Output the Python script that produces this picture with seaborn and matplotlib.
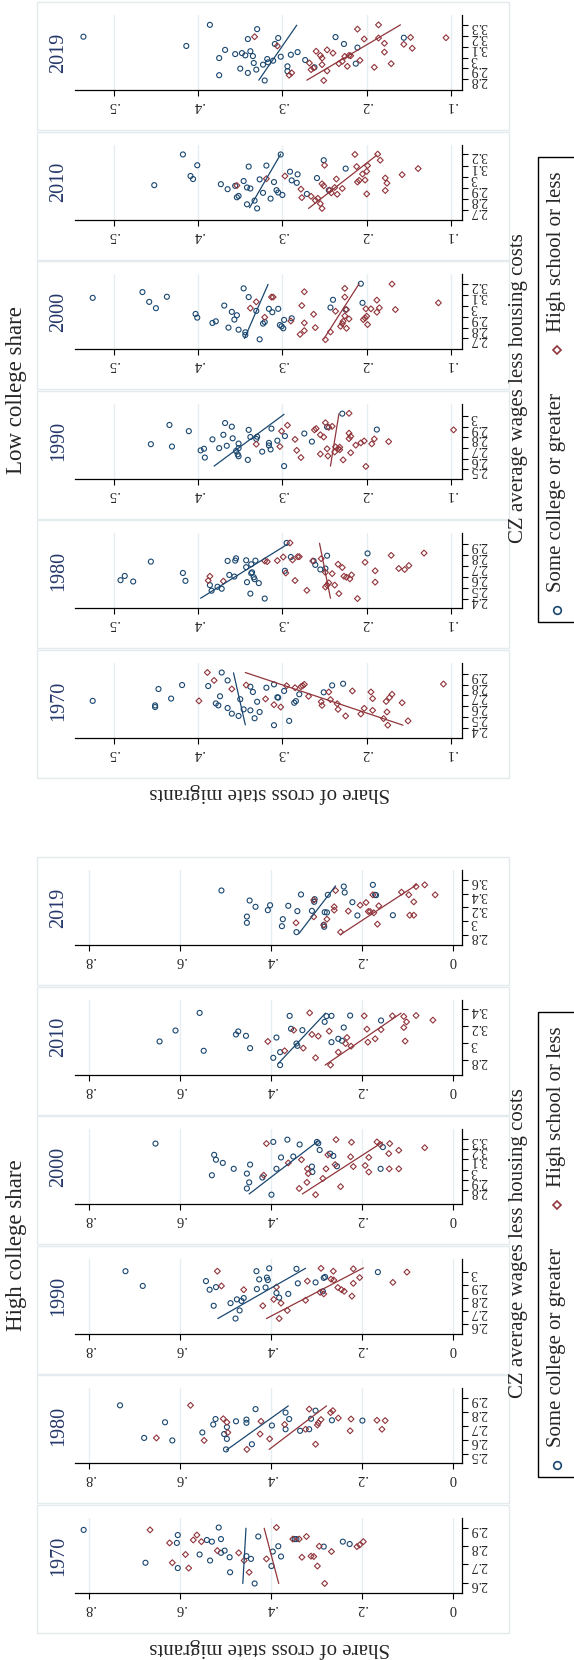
import matplotlib
matplotlib.use("Agg")
import matplotlib.pyplot as plt
from matplotlib.patches import Rectangle
import pandas as pd
import seaborn as sns

# figure is the rotated (90 deg ccw) Stata graph, laid out in pixels
W, H = 574, 1660
BLUE = "#1a476f"
RED = "#90353b"
YEAR_COLOR = "#25386a"

years = [1970, 1980, 1990, 2000, 2010, 2019]
groups = ["Low college share", "High college share"]
legend_labels = ["Some college or greater", "High school or less"]
x_title = "CZ average wages less housing costs"
y_title = "Share of cross state migrants"

low_share_ticks = [0.1, 0.2, 0.3, 0.4, 0.5]
high_share_ticks = [0.0, 0.2, 0.4, 0.6, 0.8]

# (share, wage) points, col = some college or greater, hs = high school or less
low_1970_col = [(.525, 2.651), (.451, 2.595), (.451, 2.610), (.447, 2.759), (.432, 2.672), (.419, 2.795), (.388, 2.786),
                (.379, 2.628), (.376, 2.610), (.374, 2.693), (.372, 2.909), (.365, 2.837), (.365, 2.586), (.360, 2.535),
                (.352, 2.514), (.350, 2.666), (.346, 2.574), (.338, 2.780), (.338, 2.565), (.335, 2.732), (.333, 2.493),
                (.330, 2.643), (.327, 2.550), (.319, 2.771), (.310, 2.430), (.310, 2.801), (.306, 2.684), (.305, 2.681),
                (.298, 2.741), (.292, 2.469), (.286, 2.634), (.284, 2.649), (.280, 2.711), (.251, 2.729), (.241, 2.792),
                (.228, 2.807)]
low_1970_hs = [(.399, 2.651), (.389, 2.909), (.381, 2.837), (.360, 2.759), (.343, 2.795), (.320, 2.669), (.310, 2.616),
               (.302, 2.595), (.295, 2.789), (.285, 2.771), (.278, 2.780), (.276, 2.789), (.274, 2.801), (.269, 2.693),
               (.254, 2.643), (.253, 2.610), (.245, 2.732), (.243, 2.663), (.235, 2.625), (.234, 2.574), (.225, 2.514),
               (.217, 2.741), (.207, 2.532), (.203, 2.583), (.195, 2.732), (.193, 2.672), (.193, 2.565), (.180, 2.490),
               (.177, 2.646), (.176, 2.550), (.175, 2.430), (.173, 2.681), (.170, 2.711), (.158, 2.634), (.151, 2.469),
               (.109, 2.804)]
low_1970_col_fit = [(.344, 2.433), (.358, 2.906)]
low_1970_hs_fit = [(.157, 2.430), (.344, 2.909)]

low_1980_col = [(.492, 2.571), (.487, 2.610), (.477, 2.559), (.456, 2.741), (.418, 2.637), (.415, 2.565), (.386, 2.526),
                (.384, 2.475), (.377, 2.511), (.372, 2.493), (.365, 2.747), (.363, 2.619), (.357, 2.604), (.356, 2.750),
                (.355, 2.771), (.343, 2.753), (.343, 2.690), (.342, 2.553), (.338, 2.448), (.337, 2.717), (.337, 2.634),
                (.336, 2.643), (.334, 2.598), (.333, 2.580), (.332, 2.750), (.328, 2.544), (.321, 2.403), (.297, 2.657),
                (.295, 2.912), (.290, 2.783), (.263, 2.747), (.261, 2.711), (.255, 2.669), (.249, 2.678), (.247, 2.795),
                (.199, 2.816)]
low_1980_hs = [(.388, 2.568), (.386, 2.607), (.370, 2.562), (.321, 2.747), (.318, 2.741), (.306, 2.750), (.299, 2.783),
               (.296, 2.637), (.291, 2.912), (.288, 2.756), (.285, 2.568), (.282, 2.786), (.280, 2.786), (.271, 2.478),
               (.264, 2.747), (.254, 2.768), (.249, 2.643), (.249, 2.508), (.247, 2.526), (.245, 2.547), (.241, 2.631),
               (.238, 2.526), (.234, 2.717), (.233, 2.448), (.229, 2.687), (.227, 2.607), (.224, 2.598), (.220, 2.583),
               (.218, 2.619), (.211, 2.403), (.202, 2.735), (.190, 2.657), (.190, 2.553), (.171, 2.798), (.162, 2.678),
               (.155, 2.669), (.150, 2.705), (.132, 2.819)]
low_1980_col_fit = [(.397, 2.406), (.294, 2.900)]
low_1980_hs_fit = [(.243, 2.406), (.256, 2.909)]

low_1990_col = [(.456, 2.735), (.434, 2.915), (.431, 2.713), (.411, 2.857), (.397, 2.677), (.393, 2.692), (.392, 2.610),
                (.383, 2.780), (.375, 2.698), (.370, 2.823), (.368, 2.933), (.366, 2.720), (.360, 2.899), (.359, 2.790),
                (.355, 2.671), (.353, 2.640), (.352, 2.622), (.352, 2.741), (.352, 2.698), (.341, 2.588), (.340, 2.869),
                (.338, 2.802), (.331, 2.784), (.330, 2.805), (.324, 2.665), (.316, 2.747), (.316, 2.723), (.314, 2.686),
                (.313, 2.881), (.306, 2.768), (.298, 2.530), (.297, 2.811), (.274, 2.835), (.265, 2.759), (.247, 2.896),
                (.229, 3.021), (.188, 2.872)]
low_1990_hs = [(.331, 2.735), (.303, 2.713), (.301, 2.857), (.294, 2.912), (.285, 2.780), (.283, 2.677), (.278, 2.610),
               (.262, 2.869), (.260, 2.881), (.255, 2.823), (.255, 2.643), (.251, 2.802), (.249, 2.936), (.247, 2.692),
               (.246, 2.625), (.245, 2.893), (.241, 2.902), (.238, 2.662), (.237, 2.710), (.234, 2.692), (.232, 2.707),
               (.232, 2.683), (.228, 2.588), (.221, 2.838), (.221, 3.024), (.219, 2.808), (.221, 2.787), (.219, 2.655),
               (.213, 2.726), (.207, 2.747), (.203, 2.765), (.201, 2.527), (.194, 2.738), (.191, 2.784), (.174, 2.759),
               (.097, 2.869)]
low_1990_col_fit = [(.381, 2.530), (.298, 3.015)]
low_1990_hs_fit = [(.243, 2.530), (.233, 3.018)]

low_2000_col = [(.525, 3.073), (.466, 3.126), (.458, 3.036), (.450, 2.978), (.437, 3.083), (.403, 2.925), (.401, 2.891),
                (.383, 2.842), (.379, 2.857), (.369, 3.002), (.364, 2.799), (.360, 2.944), (.357, 2.873), (.354, 2.913),
                (.352, 2.780), (.346, 3.160), (.344, 2.756), (.344, 2.731), (.340, 3.080), (.331, 2.953), (.327, 2.691),
                (.323, 2.836), (.321, 2.851), (.316, 2.972), (.312, 2.941), (.305, 2.972), (.303, 2.823), (.301, 2.811),
                (.299, 2.793), (.298, 2.870), (.289, 2.885), (.240, 3.055), (.243, 2.984), (.225, 2.965), (.207, 3.203),
                (.205, 3.027)]
low_2000_hs = [(.338, 2.978), (.331, 3.036), (.321, 2.894), (.313, 3.080), (.311, 3.080), (.290, 2.860), (.279, 2.737),
               (.277, 3.002), (.274, 3.129), (.274, 2.771), (.274, 2.842), (.263, 2.922), (.261, 2.799), (.249, 2.688),
               (.243, 2.759), (.237, 2.950), (.231, 2.811), (.229, 2.836), (.228, 2.857), (.226, 2.907), (.226, 3.160),
               (.226, 3.080), (.224, 2.965), (.224, 2.793), (.221, 2.879), (.204, 2.873), (.202, 2.888), (.200, 2.904),
               (.199, 2.827), (.201, 2.972), (.195, 2.972), (.188, 3.052), (.188, 2.941), (.185, 2.981), (.170, 3.200),
               (.166, 2.965), (.115, 3.027)]
low_2000_col_fit = [(.345, 2.700), (.317, 3.197)]
low_2000_hs_fit = [(.251, 2.694), (.209, 3.203)]

low_2010_col = [(.452, 2.924), (.418, 3.200), (.401, 3.103), (.409, 3.006), (.406, 2.979), (.373, 2.933), (.365, 2.888),
                (.356, 2.918), (.346, 2.961), (.342, 2.903), (.338, 2.894), (.354, 2.815), (.352, 2.827), (.342, 2.752),
                (.333, 2.785), (.330, 2.715), (.340, 3.091), (.319, 3.100), (.327, 2.976), (.323, 2.855), (.314, 2.803),
                (.310, 2.952), (.307, 2.879), (.305, 2.858), (.300, 2.836), (.302, 3.200), (.291, 3.045), (.289, 2.967),
                (.283, 2.945), (.282, 3.021), (.271, 2.845), (.259, 2.988), (.251, 3.148), (.245, 2.879), (.225, 3.073)]
low_2010_hs = [(.354, 2.921), (.319, 2.982), (.297, 3.006), (.278, 2.888), (.277, 2.812), (.266, 2.824), (.261, 2.788),
               (.258, 2.806), (.255, 2.758), (.253, 2.715), (.253, 2.936), (.251, 2.918), (.250, 3.103), (.244, 2.879),
               (.242, 2.855), (.238, 2.903), (.236, 2.979), (.235, 2.842), (.229, 2.894), (.214, 3.200), (.212, 3.091),
               (.211, 2.952), (.209, 2.967), (.205, 3.024), (.202, 2.970), (.200, 2.845), (.199, 3.100), (.200, 3.048),
               (.187, 3.203), (.184, 3.148), (.178, 2.988), (.176, 2.942), (.178, 2.876), (.158, 3.018), (.139, 3.073)]
low_2010_col_fit = [(.339, 2.721), (.302, 3.203)]
low_2010_hs_fit = [(.269, 2.715), (.188, 3.194)]

low_2019_col = [(.536, 3.189), (.414, 3.105), (.386, 3.297), (.330, 3.258), (.341, 3.168), (.368, 3.069), (.375, 2.995),
                (.375, 2.839), (.356, 3.031), (.348, 3.040), (.344, 3.019), (.338, 3.057), (.335, 3.013), (.334, 2.950),
                (.350, 2.899), (.341, 2.860), (.331, 2.890), (.323, 2.935), (.321, 2.791), (.318, 2.986), (.317, 2.956),
                (.311, 2.971), (.309, 3.123), (.305, 3.177), (.302, 3.007), (.294, 2.920), (.294, 2.875), (.290, 3.025),
                (.282, 3.049), (.273, 2.977), (.262, 2.911), (.237, 3.186), (.227, 3.123), (.211, 3.090), (.213, 2.944),
                (.156, 3.180)]
low_2019_hs = [(.333, 3.189), (.306, 3.105), (.292, 2.839), (.289, 2.860), (.268, 2.950), (.266, 2.890), (.263, 2.905),
               (.260, 3.057), (.255, 3.019), (.253, 2.935), (.251, 2.791), (.247, 3.069), (.247, 2.878), (.253, 2.995),
               (.240, 3.040), (.233, 2.944), (.229, 2.965), (.226, 3.010), (.223, 2.920), (.221, 3.019), (.219, 3.016),
               (.211, 3.258), (.208, 2.974), (.203, 3.168), (.191, 2.911), (.186, 3.297), (.186, 3.177), (.179, 3.129),
               (.179, 3.049), (.171, 2.944), (.156, 3.120), (.148, 3.183), (.146, 3.084), (.106, 3.180)]
low_2019_col_fit = [(.328, 2.794), (.283, 3.294)]
low_2019_hs_fit = [(.271, 2.794), (.160, 3.297)]

high_1970_col = [(.812, 2.887), (.676, 2.708), (.605, 2.859), (.607, 2.816), (.605, 2.679), (.557, 2.753), (.541, 2.832),
                 (.534, 2.720), (.530, 2.823), (.515, 2.900), (.510, 2.837), (.510, 2.762), (.502, 2.774), (.491, 2.738),
                 (.490, 2.656), (.454, 2.744), (.444, 2.729), (.436, 2.595), (.428, 2.851), (.399, 2.690), (.396, 2.769),
                 (.384, 2.798), (.378, 2.742), (.348, 2.837), (.344, 2.837), (.284, 2.796), (.242, 2.823), (.227, 2.810)]
high_1970_hs = [(.666, 2.887), (.623, 2.816), (.617, 2.708), (.588, 2.753), (.581, 2.679), (.571, 2.832), (.563, 2.859),
                (.553, 2.823), (.518, 2.774), (.471, 2.762), (.459, 2.720), (.448, 2.656), (.410, 2.729), (.388, 2.900),
                (.352, 2.837), (.338, 2.837), (.332, 2.738), (.322, 2.851), (.312, 2.744), (.306, 2.742), (.298, 2.690),
                (.294, 2.798), (.282, 2.595), (.267, 2.769), (.211, 2.796), (.205, 2.805), (.197, 2.823)]
high_1970_col_fit = [(.462, 2.595), (.455, 2.896)]
high_1970_hs_fit = [(.383, 2.595), (.415, 2.896)]

high_1980_col = [(.732, 2.847), (.679, 2.614), (.633, 2.726), (.617, 2.596), (.551, 2.653), (.527, 2.710), (.522, 2.749),
                 (.503, 2.642), (.497, 2.692), (.497, 2.607), (.499, 2.532), (.477, 2.733), (.454, 2.745), (.454, 2.722),
                 (.442, 2.569), (.434, 2.820), (.398, 2.703), (.368, 2.795), (.368, 2.676), (.360, 2.749), (.336, 2.665),
                 (.316, 2.676), (.312, 2.751), (.302, 2.809), (.266, 2.740), (.199, 2.738)]
high_1980_hs = [(.652, 2.614), (.577, 2.847), (.547, 2.596), (.505, 2.751), (.497, 2.726), (.495, 2.653), (.453, 2.532),
                (.424, 2.642), (.422, 2.733), (.403, 2.607), (.370, 2.710), (.324, 2.676), (.316, 2.820), (.302, 2.569),
                (.298, 2.706), (.296, 2.722), (.290, 2.745), (.269, 2.795), (.264, 2.809), (.252, 2.756), (.226, 2.665),
                (.224, 2.749), (.167, 2.740), (.156, 2.676), (.149, 2.738)]
high_1980_col_fit = [(.498, 2.527), (.362, 2.843)]
high_1980_hs_fit = [(.404, 2.532), (.278, 2.843)]

high_1990_col = [(.720, 3.007), (.682, 2.894), (.543, 2.931), (.535, 2.865), (.521, 2.885), (.526, 2.742), (.489, 2.762),
                 (.475, 2.791), (.469, 2.706), (.478, 2.644), (.465, 2.779), (.460, 2.801), (.432, 3.007), (.431, 2.870),
                 (.426, 2.944), (.412, 2.882), (.409, 2.958), (.407, 2.939), (.404, 3.029), (.388, 2.840), (.382, 2.804),
                 (.362, 2.833), (.344, 3.025), (.341, 2.914), (.302, 2.921), (.286, 2.853), (.284, 2.956), (.281, 2.963),
                 (.165, 3.000)]
high_1990_hs = [(.518, 3.007), (.509, 2.894), (.460, 2.865), (.418, 2.742), (.394, 2.791), (.388, 2.885), (.382, 2.644),
                (.378, 2.762), (.364, 2.706), (.324, 2.784), (.320, 2.931), (.292, 2.845), (.290, 3.029), (.284, 2.833),
                (.268, 2.946), (.263, 3.007), (.262, 2.939), (.253, 2.882), (.245, 2.865), (.239, 2.853), (.222, 2.816),
                (.219, 3.025), (.219, 2.914), (.205, 2.958), (.132, 2.921), (.101, 3.000)]
high_1990_col_fit = [(.517, 2.644), (.324, 3.029)]
high_1990_hs_fit = [(.410, 2.644), (.197, 3.032)]

high_2000_col = [(.654, 3.253), (.525, 3.144), (.521, 3.097), (.506, 3.066), (.530, 2.947), (.482, 3.009), (.453, 2.963),
                 (.446, 3.050), (.448, 2.878), (.453, 2.819), (.419, 2.925), (.399, 2.759), (.395, 3.269), (.388, 3.009),
                 (.378, 3.119), (.364, 3.291), (.351, 3.128), (.337, 3.244), (.310, 3.031), (.309, 2.978), (.299, 3.269),
                 (.296, 3.256), (.293, 3.191), (.270, 3.156), (.263, 3.134), (.255, 3.034), (.159, 3.009), (.154, 3.219)]
high_2000_hs = [(.416, 2.947), (.410, 3.253), (.362, 3.066), (.338, 2.819), (.333, 3.097), (.321, 2.878), (.320, 3.009),
                (.318, 2.963), (.302, 2.759), (.286, 2.916), (.279, 3.009), (.275, 3.144), (.259, 3.050), (.257, 3.291),
                (.247, 2.837), (.225, 3.125), (.223, 3.266), (.219, 3.031), (.193, 3.041), (.185, 2.978), (.185, 3.119),
                (.167, 3.269), (.160, 3.244), (.141, 3.156), (.140, 3.009), (.139, 3.253), (.119, 3.188), (.119, 3.009),
                (.062, 3.213)]
high_2000_col_fit = [(.448, 2.766), (.297, 3.275)]
high_2000_hs_fit = [(.331, 2.766), (.155, 3.266)]

high_2010_col = [(.645, 3.022), (.610, 3.150), (.557, 3.356), (.548, 2.913), (.477, 3.104), (.472, 3.139), (.455, 3.088),
                 (.446, 2.944), (.395, 2.831), (.388, 3.068), (.380, 2.897), (.380, 2.746), (.359, 3.321), (.356, 3.170),
                 (.344, 2.998), (.342, 2.971), (.331, 3.154), (.282, 3.251), (.278, 3.318), (.267, 3.321), (.267, 3.014),
                 (.252, 3.053), (.244, 3.030), (.240, 3.185), (.226, 3.325), (.158, 3.267)]
high_2010_hs = [(.407, 3.022), (.370, 2.913), (.350, 3.154), (.329, 2.944), (.315, 3.356), (.310, 3.104), (.302, 2.831),
                (.296, 3.084), (.272, 3.142), (.269, 2.746), (.252, 2.897), (.236, 2.998), (.233, 3.068), (.224, 2.967),
                (.195, 3.321), (.189, 3.166), (.187, 3.014), (.171, 3.053), (.158, 3.160), (.133, 3.321), (.108, 3.314),
                (.108, 3.185), (.105, 3.026), (.102, 3.251), (.081, 3.325), (.044, 3.271)]
high_2010_col_fit = [(.384, 2.765), (.280, 3.353)]
high_2010_hs_fit = [(.281, 2.746), (.114, 3.353)]

high_2019_col = [(.509, 3.443), (.453, 3.071), (.453, 2.981), (.447, 3.300), (.434, 3.210), (.407, 3.162), (.402, 3.233),
                 (.376, 2.933), (.374, 3.033), (.362, 3.224), (.344, 2.848), (.342, 3.148), (.334, 3.386), (.310, 3.152),
                 (.305, 3.281), (.304, 3.319), (.284, 2.952), (.282, 3.133), (.277, 3.129), (.283, 2.924), (.275, 3.381),
                 (.240, 3.500), (.238, 3.414), (.221, 3.276), (.210, 3.086), (.176, 3.524), (.171, 3.381), (.169, 3.376),
                 (.132, 3.090)]
high_2019_hs = [(.345, 2.981), (.306, 3.305), (.306, 3.067), (.284, 2.948), (.277, 3.033), (.261, 3.210), (.261, 3.162),
                (.258, 3.443), (.247, 2.848), (.230, 3.148), (.204, 3.233), (.191, 3.271), (.186, 3.143), (.182, 3.143),
                (.176, 3.381), (.174, 3.124), (.166, 2.962), (.163, 3.224), (.113, 3.419), (.097, 3.381), (.095, 3.090),
                (.086, 3.281), (.086, 3.090), (.081, 3.500), (.062, 3.524), (.039, 3.381)]
high_2019_col_fit = [(.338, 2.833), (.258, 3.510)]
high_2019_hs_fit = [(.247, 2.814), (.080, 3.524)]

# wage axis ticks per panel
low_wage_ticks = {1970: [2.4, 2.5, 2.6, 2.7, 2.8, 2.9], 1980: [2.4, 2.5, 2.6, 2.7, 2.8, 2.9],
                  1990: [2.5, 2.6, 2.7, 2.8, 2.9, 3.0], 2000: [2.7, 2.8, 2.9, 3.0, 3.1, 3.2],
                  2010: [2.7, 2.8, 2.9, 3.0, 3.1, 3.2], 2019: [2.8, 2.9, 3.0, 3.1, 3.2, 3.3]}
high_wage_ticks = {1970: [2.6, 2.7, 2.8, 2.9], 1980: [2.5, 2.6, 2.7, 2.8, 2.9],
                   1990: [2.6, 2.7, 2.8, 2.9, 3.0], 2000: [2.8, 2.9, 3.0, 3.1, 3.2, 3.3],
                   2010: [2.8, 3.0, 3.2, 3.4], 2019: [2.8, 3.0, 3.2, 3.4, 3.6]}

low_panels = {1970: (low_1970_col, low_1970_hs, low_1970_col_fit, low_1970_hs_fit),
              1980: (low_1980_col, low_1980_hs, low_1980_col_fit, low_1980_hs_fit),
              1990: (low_1990_col, low_1990_hs, low_1990_col_fit, low_1990_hs_fit),
              2000: (low_2000_col, low_2000_hs, low_2000_col_fit, low_2000_hs_fit),
              2010: (low_2010_col, low_2010_hs, low_2010_col_fit, low_2010_hs_fit),
              2019: (low_2019_col, low_2019_hs, low_2019_col_fit, low_2019_hs_fit)}
high_panels = {1970: (high_1970_col, high_1970_hs, high_1970_col_fit, high_1970_hs_fit),
               1980: (high_1980_col, high_1980_hs, high_1980_col_fit, high_1980_hs_fit),
               1990: (high_1990_col, high_1990_hs, high_1990_col_fit, high_1990_hs_fit),
               2000: (high_2000_col, high_2000_hs, high_2000_col_fit, high_2000_hs_fit),
               2010: (high_2010_col, high_2010_hs, high_2010_col_fit, high_2010_hs_fit),
               2019: (high_2019_col, high_2019_hs, high_2019_col_fit, high_2019_hs_fit)}


def share_label(v):
    return "0" if v == 0 else f"{v:g}".replace("0.", ".")


def draw_panel(fig, axis_y, pts_col, pts_hs, fit_col, fit_hs, wage_ticks, share_ticks, share_lim):
    ax = fig.add_axes([75 / W, 1 - axis_y / H, 387 / W, 75 / H])
    ax.patch.set_visible(False)
    col = pd.DataFrame(pts_col, columns=["share", "wage"])
    hs = pd.DataFrame(pts_hs, columns=["share", "wage"])
    sns.scatterplot(data=col, x="share", y="wage", marker="o", s=13, facecolors="none",
                    edgecolor=BLUE, linewidth=0.8, ax=ax)
    sns.scatterplot(data=hs, x="share", y="wage", marker="D", s=9, facecolors="none",
                    edgecolor=RED, linewidth=0.8, ax=ax)
    for fit, c in [(fit_col, BLUE), (fit_hs, RED)]:
        f = pd.DataFrame(fit, columns=["share", "wage"])
        sns.lineplot(data=f, x="share", y="wage", color=c, lw=0.9, sort=False, estimator=None, ax=ax)

    lo = min(min(col.wage.min(), hs.wage.min()), wage_ticks[0])
    hi = max(max(col.wage.max(), hs.wage.max()), wage_ticks[-1])
    pad = 0.17 * (hi - lo)
    ax.set_ylim(lo - pad, hi + pad)
    ax.set_xlim(*share_lim)

    ax.set_xticks(share_ticks)
    ax.set_xticklabels([share_label(v) for v in share_ticks])
    ax.set_yticks(wage_ticks)
    ax.set_yticklabels([f"{v:g}" for v in wage_ticks])
    ax.yaxis.tick_right()
    ax.tick_params(axis="x", bottom=True, top=False, direction="out", length=4, width=0.8,
                   labelsize=10.5, labelrotation=180, pad=2.5, color="black")
    ax.tick_params(axis="y", right=True, left=False, direction="out", length=4, width=0.8,
                   labelsize=10, labelrotation=180, pad=2, color="black")
    ax.grid(axis="x", color="#e6eef1", lw=1)
    ax.grid(axis="y", visible=False)
    ax.set_axisbelow(True)
    for side in ["left", "top"]:
        ax.spines[side].set_visible(False)
    for side in ["right", "bottom"]:
        ax.spines[side].set_color("black")
        ax.spines[side].set_linewidth(0.9)
    ax.set_xlabel("")
    ax.set_ylabel("")
    return ax


sns.set_style("ticks")
plt.rcParams["font.family"] = ["Liberation Serif", "DejaVu Serif"]

fig = plt.figure(figsize=(W / 100, H / 100), dpi=100)
fig.patch.set_facecolor("white")

bg = fig.add_axes([0, 0, 1, 1])
bg.set_xlim(0, W)
bg.set_ylim(H, 0)
bg.axis("off")

setups = [(0, low_panels, low_wage_ticks, low_share_ticks, (0.546, 0.087), groups[0]),
          (855, high_panels, high_wage_ticks, high_share_ticks, (0.831, -0.020), groups[1])]

for off, panels, wticks, sticks, slim, title in setups:
    for i, yr in enumerate(years):
        axis_y = off + 90 + 129.6 * (5 - i)
        bg.add_patch(Rectangle((37, axis_y - 88), 472, 128, facecolor="white",
                               edgecolor="#e3ebef", lw=1))
        bg.text(58.5, axis_y - 37.5, str(yr), rotation=90, ha="center", va="center",
                fontsize=14.5, color=YEAR_COLOR)
        pts_col, pts_hs, fit_col, fit_hs = panels[yr]
        draw_panel(fig, axis_y, pts_col, pts_hs, fit_col, fit_hs, wticks[yr], sticks, slim)

    bg.text(17, off + 390, title, rotation=90, ha="center", va="center", fontsize=16.5)
    bg.text(270, off + 793, y_title, rotation=180, ha="center", va="center", fontsize=15)
    bg.text(518, off + 388, x_title, rotation=90, ha="center", va="center", fontsize=15)

    # legend box (runs off the right edge as in the source)
    bg.add_patch(Rectangle((538, off + 157), 100, 465, fill=False, edgecolor="black", lw=1))
    bg.plot([557], [off + 610], marker="o", ms=5.5, mfc="none", mec=BLUE, mew=1.2, ls="none")
    bg.plot([557], [off + 350], marker="D", ms=4.5, mfc="none", mec=RED, mew=1.2, ls="none")
    bg.text(557, off + 492, legend_labels[0], rotation=90, ha="center", va="center", fontsize=15)
    bg.text(557, off + 252, legend_labels[1], rotation=90, ha="center", va="center", fontsize=15)

fig.savefig("out.png", dpi=100, facecolor="white")
